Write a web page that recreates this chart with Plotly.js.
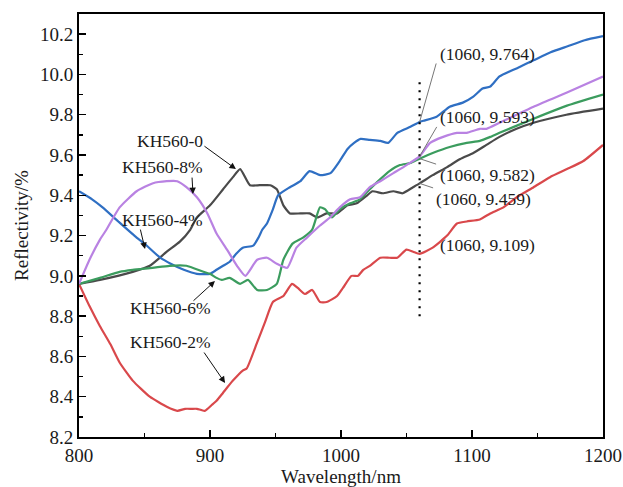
<!DOCTYPE html>
<html>
<head>
<meta charset="utf-8">
<script src="https://cdn.plot.ly/plotly-3.0.1.min.js"></script>
<style>html,body{margin:0;padding:0;background:#fff;}#chart{width:623px;height:487px;}</style>
</head>
<body>
<div id="chart"></div>
<script>
// ---- data (wavelength in nm, reflectivity in %) ----
const seriesNames = ["KH560-0", "KH560-2%", "KH560-4%", "KH560-6%", "KH560-8%"];

const x0 = [800,816,841,854,867,877,885,890,900,910,917.5,923,930.5,938,946,951,956,961,969,976,982,989,997,1005,1012,1020,1024,1032,1040,1047,1055,1060,1070,1081,1091,1101,1111,1121,1134,1147,1172,1200];
const y0 = [8.96,8.98,9.02,9.05,9.12,9.17,9.23,9.29,9.35,9.43,9.49,9.53,9.45,9.45,9.45,9.43,9.35,9.31,9.31,9.31,9.29,9.31,9.31,9.35,9.36,9.40,9.42,9.41,9.42,9.41,9.44,9.459,9.50,9.54,9.58,9.61,9.65,9.69,9.73,9.76,9.80,9.83];

const x2 = [800,808,816,824,831,841,854,867,875,881,886,890,896,901.5,905,910,917.5,925,928,936,942,948,956,962.6,967,972.5,978,984,989,997,1001.5,1008,1013,1017,1022,1030,1037,1043,1050,1055,1060,1070,1081,1088.5,1096,1106,1114,1124,1134,1147,1159.5,1172.5,1185,1200];
const y2 = [8.96,8.85,8.75,8.66,8.57,8.48,8.40,8.35,8.33,8.34,8.34,8.34,8.33,8.36,8.38,8.42,8.48,8.53,8.54,8.67,8.77,8.87,8.90,8.96,8.94,8.91,8.93,8.87,8.87,8.90,8.94,9.00,9.00,9.03,9.05,9.09,9.09,9.09,9.13,9.12,9.109,9.14,9.20,9.26,9.27,9.28,9.31,9.34,9.39,9.44,9.49,9.53,9.57,9.65];

const x4 = [800,810,818,830,844,850,862,870,880,890,900,905,910,915,920,925,933,937,940,943.5,948,952,961,969,976,984,992,999,1005,1010,1015,1022,1030,1036,1043,1053,1060,1063,1073,1083,1093,1101,1108,1114,1121,1134,1147,1160,1173,1186,1200];
const y4 = [9.42,9.38,9.34,9.27,9.19,9.16,9.09,9.06,9.03,9.01,9.01,9.03,9.05,9.07,9.11,9.14,9.15,9.19,9.23,9.26,9.33,9.40,9.44,9.47,9.52,9.50,9.51,9.57,9.63,9.66,9.68,9.675,9.67,9.66,9.71,9.74,9.764,9.77,9.79,9.84,9.86,9.89,9.93,9.94,9.99,10.03,10.07,10.11,10.14,10.17,10.19];

const x6 = [800,816,831,841,856,869,882,895,900,905,909,915,923,929,936,943.5,951,956,963,971,978,984,988,993,999,1007,1014.5,1022,1030,1037,1045,1053,1060,1070,1083,1096,1106,1114,1121,1147,1172.5,1200];
const y6 = [8.96,8.99,9.02,9.03,9.04,9.05,9.05,9.02,9.01,8.99,8.98,8.99,8.96,8.98,8.93,8.93,8.96,9.08,9.16,9.19,9.23,9.34,9.33,9.29,9.33,9.36,9.38,9.43,9.48,9.52,9.55,9.56,9.582,9.61,9.64,9.66,9.67,9.69,9.71,9.78,9.845,9.90];

const x8 = [800,808,816,821,831,844,856.5,867,875,882,890,898,905,913,920.6,927,936,943.5,951,959,966,974,984,991.6,999,1007,1014.5,1022,1030,1040,1050,1060,1068,1078,1088.5,1096,1106,1111,1121,1147,1172.5,1200];
const y8 = [8.96,9.08,9.18,9.23,9.34,9.42,9.46,9.47,9.47,9.44,9.39,9.31,9.21,9.13,9.05,9.00,9.08,9.09,9.06,9.04,9.14,9.19,9.25,9.29,9.34,9.38,9.39,9.44,9.47,9.51,9.55,9.593,9.66,9.69,9.71,9.71,9.73,9.73,9.76,9.84,9.91,9.99];

const colors = ["#4a4a4a", "#d9484b", "#2f6fc3", "#3b9c5e", "#b982e2"];

// marker line at 1060 nm
const markX = [1060, 1060];
const markY = [8.80, 9.97];

// labelled values at 1060 nm
const pickValues = [9.764, 9.593, 9.582, 9.459, 9.109];

// ---- traces ----
const xs = [x0, x2, x4, x6, x8];
const ys = [y0, y2, y4, y6, y8];
const traces = xs.map((xx, i) => ({
  x: xx, y: ys[i], type: 'scatter', mode: 'lines', name: seriesNames[i],
  line: {color: colors[i], width: 2.2, shape: 'spline', smoothing: 0.5},
  hoverinfo: 'x+y+name'
}));
traces.push({
  x: markX, y: markY, type: 'scatter', mode: 'lines',
  line: {color: '#000', width: 2.2, dash: '2px,6px'}, hoverinfo: 'skip'
});

const serif = 'Liberation Serif, Times New Roman, serif';
const annFont = {family: serif, size: 17.5, color: '#1a1a1a'};

function txt(x, y, text) {
  return {x, y, xref: 'x', yref: 'y', text, showarrow: false, font: annFont, xanchor: 'center', yanchor: 'middle'};
}
function arr(x, y, ax, ay, head, color, w) {
  return {x, y, xref: 'x', yref: 'y', text: '', showarrow: true, arrowhead: head, arrowsize: 1.3,
          arrowwidth: w, arrowcolor: color, ax, ay, standoff: 0, startstandoff: 0};
}

const annotations = [
  txt(869.5, 9.669, seriesNames[0]),
  txt(864.1, 9.540, seriesNames[4]),
  txt(864.1, 9.277, seriesNames[2]),
  txt(870.2, 8.840, seriesNames[3]),
  txt(870.2, 8.671, seriesNames[1]),
  arr(919.8, 9.530, -33, -24, 2, '#111', 1),
  arr(887.0, 9.406, -1, -18, 2, '#111', 1),
  arr(850.4, 9.133, -5, -21, 2, '#111', 1),
  arr(903.8, 8.974, -23, 21, 2, '#111', 1),
  arr(911.5, 8.468, -22, -32, 2, '#111', 1),
  txt(1111.5, 10.101, '(1060, ' + pickValues[0] + ')'),
  txt(1112.2, 9.788, '(1060, ' + pickValues[1] + ')'),
  txt(1111.5, 9.500, '(1060, ' + pickValues[2] + ')'),
  txt(1108.4, 9.381, '(1060, ' + pickValues[3] + ')'),
  txt(1112.2, 9.153, '(1060, ' + pickValues[4] + ')'),
  arr(1060, pickValues[0], 17, -60, 0, '#777', 1),
  arr(1060, pickValues[1], 18, -31, 0, '#777', 1),
  arr(1060, pickValues[2], 18, 6, 0, '#777', 1),
  arr(1060, pickValues[3], 15, 5, 0, '#777', 1)
];

const layout = {
  width: 623, height: 487,
  margin: {l: 79, r: 20, t: 14, b: 50},
  paper_bgcolor: '#fff', plot_bgcolor: '#fff',
  showlegend: false,
  font: {family: serif, color: '#1a1a1a'},
  xaxis: {
    range: [800, 1200], dtick: 100, tick0: 800,
    ticks: 'inside', ticklen: 7, tickwidth: 1.5, tickcolor: '#000',
    minor: {dtick: 50, ticks: 'inside', ticklen: 4, tickwidth: 1.5, tickcolor: '#000'},
    showline: true, linecolor: '#000', linewidth: 2, mirror: true,
    showgrid: false, zeroline: false,
    tickfont: {family: serif, size: 19, color: '#1a1a1a'},
    title: {text: 'Wavelength/nm', font: {family: serif, size: 19, color: '#1a1a1a'}, standoff: 12}
  },
  yaxis: {
    range: [8.2, 10.3], dtick: 0.2, tick0: 8.2, tickformat: '.1f',
    ticks: 'inside', ticklen: 7, tickwidth: 1.5, tickcolor: '#000',
    minor: {dtick: 0.1, ticks: 'inside', ticklen: 4, tickwidth: 1.5, tickcolor: '#000'},
    showline: true, linecolor: '#000', linewidth: 2, mirror: true,
    showgrid: false, zeroline: false,
    tickfont: {family: serif, size: 19, color: '#1a1a1a'},
    title: {text: 'Reflectivity/%', font: {family: serif, size: 19, color: '#1a1a1a'}, standoff: 6}
  },
  annotations
};

Plotly.newPlot('chart', traces, layout, {displayModeBar: false, staticPlot: true});
</script>
</body>
</html>
